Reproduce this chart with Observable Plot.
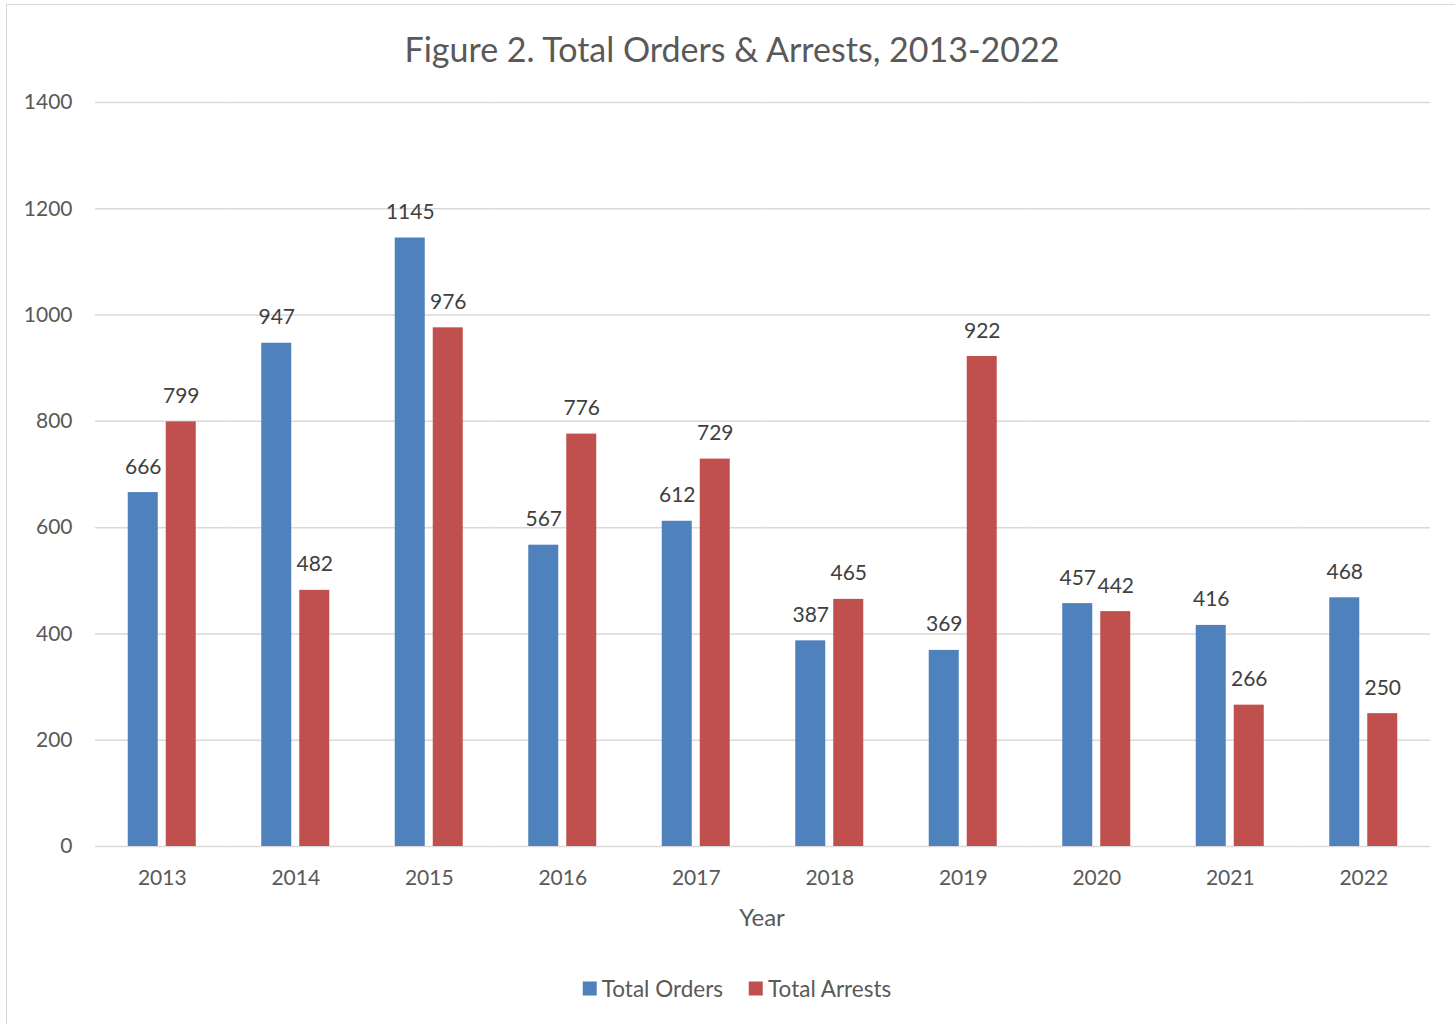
<!DOCTYPE html>
<html>
<head>
<meta charset="utf-8">
<script src="https://cdn.jsdelivr.net/npm/d3@7"></script>
<script src="https://cdn.jsdelivr.net/npm/@observablehq/plot@0.6"></script>
<style>
  html, body { margin: 0; padding: 0; background: #fff; overflow: hidden; }
  #wrap { position: relative; width: 1455px; height: 1024px; font-family: Lato, "Open Sans", sans-serif; color: #595959; }
  #border { position: absolute; left: 6px; top: 4px; width: 1470px; height: 1040px; border: 1.5px solid #d9d9d9; box-sizing: border-box; }
  #title { position: absolute; left: 732px; top: 48px; transform: translate(-50%, -50%); font-size: 34px; white-space: nowrap; }
  #xlabel { position: absolute; left: 762px; top: 916px; transform: translate(-50%, -50%); font-size: 24px; }
  #legend { position: absolute; left: 737px; top: 988px; transform: translate(-50%, -50%); font-size: 22.5px; white-space: nowrap; display: flex; align-items: center; }
  .sw { display: inline-block; width: 14px; height: 14px; margin-right: 5px; }
  .item { display: inline-flex; align-items: center; margin: 0 13px; }
  #chart { position: absolute; left: 0; top: 0; }
</style>
</head>
<body>
<div id="wrap">
  <div id="border"></div>
  <div id="chart"></div>
  <div id="title">Figure 2. Total Orders &amp; Arrests, 2013-2022</div>
  <div id="xlabel">Year</div>
  <div id="legend"></div>
</div>
<script>
const years = ["2013","2014","2015","2016","2017","2018","2019","2020","2021","2022"];
const seriesNames = ["Total Orders", "Total Arrests"];
const totalOrders = [666, 947, 1145, 567, 612, 387, 369, 457, 416, 468];
const totalArrests = [799, 482, 976, 776, 729, 465, 922, 442, 266, 250];
const colors = ["#4F81BD", "#C0504D"];
const yTicks = [0, 200, 400, 600, 800, 1000, 1200, 1400];

const data = [];
years.forEach((y, i) => {
  data.push({year: y, series: seriesNames[0], value: totalOrders[i]});
  data.push({year: y, series: seriesNames[1], value: totalArrests[i]});
});

const chart = Plot.plot({
  width: 1455,
  height: 1024,
  marginTop: 102,
  marginBottom: 178,
  marginLeft: 95,
  marginRight: 25,
  style: {fontFamily: "Lato, 'Open Sans', sans-serif", fontSize: "21px", color: "#595959", background: "transparent"},
  fx: {domain: years, padding: 0, round: false, tickSize: 0, tickPadding: 24, label: null},
  x: {domain: seriesNames, axis: null, round: false, paddingInner: 8 / 38, paddingOuter: 32.75 / 38},
  y: {domain: [0, 1400], ticks: yTicks, tickFormat: d => String(d), tickSize: 0, tickPadding: 23, label: null},
  color: {domain: seriesNames, range: colors},
  marks: [
    Plot.ruleY(yTicks, {stroke: "#d9d9d9", strokeWidth: 1.5}),
    Plot.barY(data, {fx: "year", x: "series", y: "value", fill: "series"}),
    Plot.text(data, {fx: "year", x: "series", y: "value", text: d => String(d.value), lineAnchor: "bottom", dy: -19, fontSize: 21, fill: "#404040"})
  ]
});
document.getElementById("chart").appendChild(chart);

const legend = document.getElementById("legend");
seriesNames.forEach((s, i) => {
  const item = document.createElement("span");
  item.className = "item";
  const sw = document.createElement("span");
  sw.className = "sw";
  sw.style.background = colors[i];
  item.appendChild(sw);
  item.appendChild(document.createTextNode(s));
  legend.appendChild(item);
});
</script>
</body>
</html>
